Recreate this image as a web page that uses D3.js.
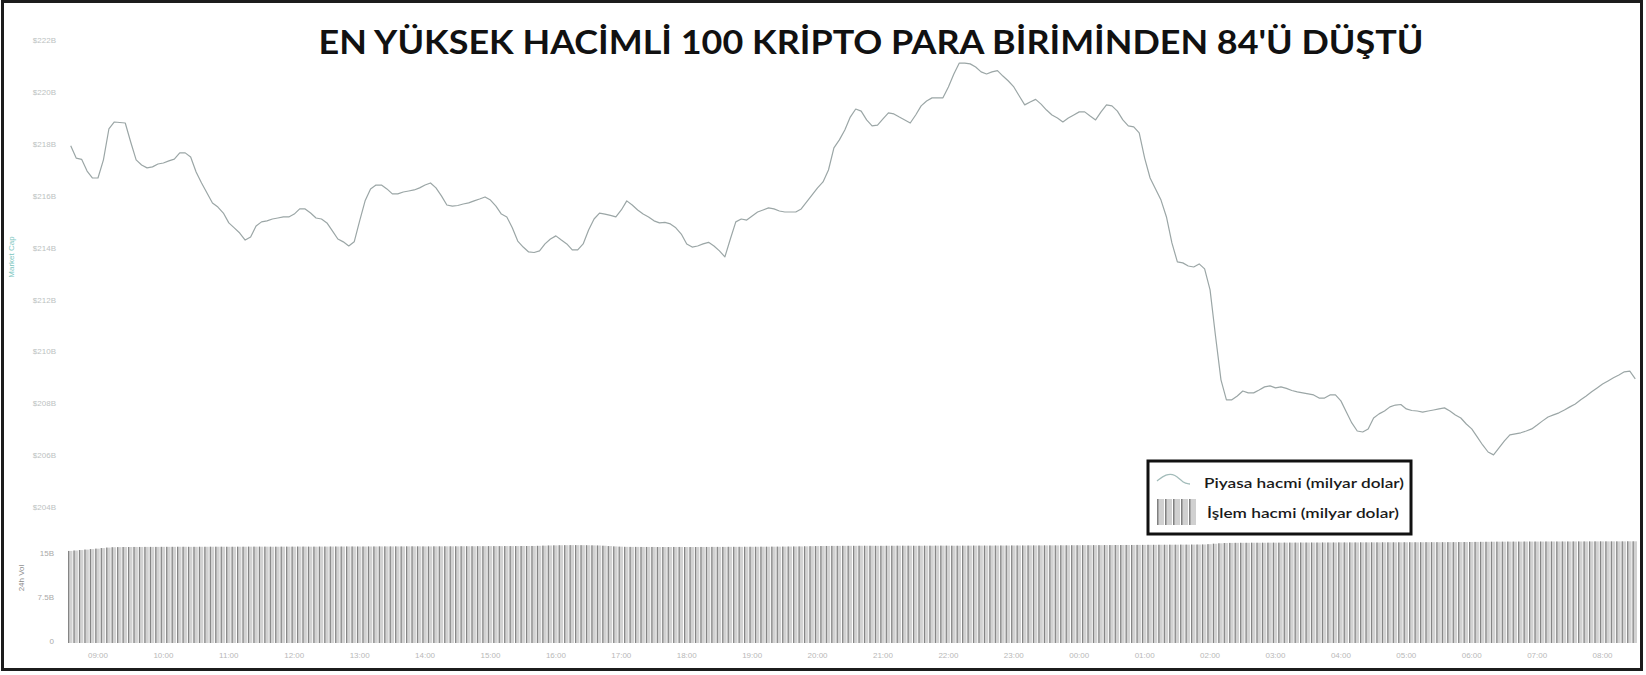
<!DOCTYPE html>
<html>
<head>
<meta charset="utf-8">
<script src="https://cdn.jsdelivr.net/npm/d3@7"></script>
<style>
  html, body { margin: 0; padding: 0; background: #fff; }
  svg { display: block; }
</style>
</head>
<body>
<svg id="chart" width="1646" height="675"></svg>
<script>
// 24h, 5-minute points: total market cap ($B) and 24h volume ($B)
const hourLabels = ['09:00','10:00','11:00','12:00','13:00','14:00','15:00','16:00',
  '17:00','18:00','19:00','20:00','21:00','22:00','23:00','00:00',
  '01:00','02:00','03:00','04:00','05:00','06:00','07:00','08:00'];

const capValues = [
  217.92,217.45,217.40,216.95,216.68,216.68,217.38,218.57,218.84,218.82,218.80,218.07,
  217.38,217.18,217.07,217.11,217.22,217.26,217.34,217.41,217.65,217.65,217.49,216.91,
  216.49,216.10,215.72,215.56,215.33,214.95,214.76,214.56,214.29,214.41,214.83,214.99,
  215.03,215.10,215.14,215.18,215.18,215.29,215.49,215.49,215.33,215.14,215.10,214.95,
  214.64,214.33,214.22,214.06,214.22,215.03,215.80,216.26,216.41,216.41,216.26,216.07,
  216.07,216.14,216.18,216.22,216.30,216.41,216.49,216.30,215.99,215.64,215.60,215.62,
  215.68,215.72,215.80,215.87,215.95,215.83,215.60,215.29,215.18,214.76,214.25,214.02,
  213.83,213.81,213.87,214.14,214.33,214.45,214.29,214.14,213.91,213.91,214.14,214.68,
  215.10,215.33,215.29,215.24,215.18,215.45,215.80,215.64,215.45,215.29,215.18,215.03,
  214.95,214.97,214.91,214.76,214.52,214.14,214.02,214.06,214.14,214.20,214.06,213.87,
  213.64,214.33,214.99,215.10,215.06,215.22,215.37,215.45,215.53,215.49,215.41,215.37,
  215.37,215.37,215.49,215.76,216.03,216.30,216.53,216.99,217.84,218.15,218.53,219.03,
  219.34,219.26,218.92,218.69,218.72,218.96,219.19,219.15,219.03,218.92,218.80,219.11,
  219.46,219.65,219.77,219.77,219.77,220.19,220.69,221.11,221.11,221.08,220.96,220.77,
  220.69,220.77,220.82,220.61,220.42,220.19,219.84,219.50,219.61,219.71,219.53,219.30,
  219.11,218.99,218.84,218.99,219.11,219.23,219.23,219.07,218.92,219.23,219.50,219.46,
  219.26,218.92,218.69,218.65,218.42,217.45,216.68,216.26,215.83,215.18,214.18,213.45,
  213.41,213.29,213.25,213.37,213.18,212.37,210.59,208.90,208.13,208.13,208.28,208.47,
  208.40,208.40,208.51,208.63,208.67,208.59,208.63,208.57,208.49,208.44,208.40,208.36,
  208.32,208.20,208.20,208.32,208.32,208.09,207.66,207.24,206.93,206.89,207.01,207.43,
  207.59,207.70,207.86,207.93,207.95,207.78,207.72,207.70,207.66,207.70,207.74,207.78,
  207.82,207.70,207.55,207.43,207.20,207.01,206.70,206.39,206.12,206.01,206.28,206.55,
  206.78,206.82,206.86,206.93,207.01,207.16,207.32,207.47,207.55,207.63,207.74,207.86,
  207.97,208.13,208.28,208.44,208.59,208.74,208.86,208.98,209.09,209.21,209.24,208.94
];

const volValues = [
  15.35,15.42,15.50,15.58,15.66,15.74,15.84,15.92,15.98,16.00,16.02,16.02,
  16.03,16.03,16.04,16.04,16.04,16.05,16.05,16.05,16.06,16.06,16.05,16.05,
  16.06,16.06,16.07,16.07,16.07,16.06,16.06,16.07,16.07,16.08,16.08,16.08,
  16.08,16.07,16.07,16.08,16.08,16.08,16.09,16.09,16.08,16.08,16.09,16.09,
  16.10,16.10,16.10,16.11,16.11,16.10,16.10,16.11,16.11,16.12,16.12,16.12,
  16.12,16.12,16.13,16.13,16.13,16.12,16.12,16.13,16.13,16.14,16.14,16.14,
  16.15,16.15,16.15,16.16,16.16,16.17,16.17,16.17,16.18,16.18,16.18,16.19,
  16.19,16.20,16.22,16.25,16.28,16.30,16.32,16.33,16.34,16.34,16.33,16.32,
  16.30,16.28,16.24,16.18,16.12,16.08,16.05,16.04,16.04,16.03,16.03,16.03,
  16.02,16.02,16.02,16.03,16.03,16.02,16.02,16.02,16.03,16.03,16.04,16.04,
  16.04,16.05,16.05,16.05,16.06,16.06,16.06,16.07,16.07,16.08,16.08,16.09,
  16.10,16.11,16.12,16.14,16.16,16.18,16.19,16.20,16.21,16.21,16.22,16.22,
  16.22,16.23,16.23,16.23,16.22,16.22,16.23,16.23,16.24,16.24,16.24,16.23,
  16.23,16.24,16.24,16.25,16.25,16.25,16.24,16.24,16.25,16.25,16.26,16.26,
  16.26,16.26,16.27,16.27,16.27,16.28,16.28,16.28,16.29,16.29,16.29,16.30,
  16.30,16.30,16.31,16.31,16.32,16.32,16.33,16.33,16.34,16.34,16.35,16.35,
  16.36,16.36,16.37,16.37,16.38,16.38,16.39,16.39,16.40,16.40,16.41,16.41,
  16.42,16.42,16.43,16.44,16.45,16.50,16.58,16.65,16.70,16.72,16.73,16.74,
  16.74,16.75,16.75,16.75,16.76,16.76,16.76,16.77,16.77,16.77,16.78,16.78,
  16.78,16.78,16.79,16.79,16.79,16.80,16.80,16.80,16.80,16.81,16.81,16.81,
  16.81,16.82,16.82,16.82,16.82,16.83,16.83,16.83,16.83,16.84,16.84,16.84,
  16.84,16.85,16.85,16.86,16.87,16.88,16.89,16.90,16.91,16.92,16.93,16.93,
  16.94,16.94,16.94,16.95,16.95,16.95,16.95,16.96,16.96,16.96,16.96,16.96,
  16.97,16.97,16.97,16.97,16.98,16.98,16.98,16.98,16.98,16.98,16.99,16.99
];

const capTicks = [222, 220, 218, 216, 214, 212, 210, 208, 206, 204];
const volTicks = [0, 7.5, 15];
const volTickLabels = ['0', '7.5B', '15B'];

const svg = d3.select('#chart');

// frame
svg.append('rect')
  .attr('x', 2.5).attr('y', 1.5)
  .attr('width', 1639).attr('height', 668)
  .attr('fill', 'none')
  .attr('stroke', '#1c1c1c')
  .attr('stroke-width', 3);

const idx = d3.range(capValues.length);
const x = d3.scaleBand().domain(idx).range([68, 1638]).padding(0);
const bw = x.bandwidth();
const yCap = d3.scaleLinear().domain([204, 222]).range([507, 40]);
const yVol = d3.scaleLinear().domain([0, 15]).range([641, 553]);

// y axis - market cap
const capAxis = svg.append('g')
  .attr('transform', 'translate(56,0)')
  .call(d3.axisLeft(yCap).tickValues(capTicks).tickSize(0).tickPadding(0)
    .tickFormat(d => '$' + d + 'B'));
capAxis.select('.domain').remove();
capAxis.selectAll('text')
  .attr('fill', '#bcc2c2')
  .style('font', '8px "Liberation Sans", Arial, sans-serif');

svg.append('text')
  .attr('transform', 'translate(14,257) rotate(-90)')
  .attr('text-anchor', 'middle')
  .attr('fill', '#7cc6c0')
  .style('font', '8px "Liberation Sans", Arial, sans-serif')
  .text('Market Cap');

// y axis - volume
const volAxis = svg.append('g')
  .attr('transform', 'translate(54,0)')
  .call(d3.axisLeft(yVol).tickValues(volTicks).tickSize(0).tickPadding(0)
    .tickFormat((d, i) => volTickLabels[i]));
volAxis.select('.domain').remove();
volAxis.selectAll('text')
  .attr('fill', '#a9a9a9')
  .style('font', '8px "Liberation Sans", Arial, sans-serif');

svg.append('text')
  .attr('transform', 'translate(24,578) rotate(-90)')
  .attr('text-anchor', 'middle')
  .attr('fill', '#8a8a8a')
  .style('font', '8px "Liberation Sans", Arial, sans-serif')
  .text('24h Vol');

// volume bars: light body + dark edge
const bars = svg.append('g').attr('class', 'bars');
bars.selectAll('rect.body')
  .data(volValues)
  .join('rect')
  .attr('class', 'body')
  .attr('x', (d, i) => x(i))
  .attr('y', d => yVol(d))
  .attr('width', bw - 1)
  .attr('height', d => yVol(0) + 2 - yVol(d))
  .attr('fill', '#d2d2d2');
bars.selectAll('rect.edge')
  .data(volValues)
  .join('rect')
  .attr('class', 'edge')
  .attr('x', (d, i) => x(i))
  .attr('y', d => yVol(d))
  .attr('width', 1.2)
  .attr('height', d => yVol(0) + 2 - yVol(d))
  .attr('fill', '#858585');

// x axis - hours
const labelIdx = hourLabels.map((h, k) => 5 + k * 12);
const xAxis = svg.append('g')
  .attr('transform', 'translate(0,652)')
  .call(d3.axisBottom(x).tickValues(labelIdx).tickSize(0).tickPadding(0)
    .tickFormat(i => hourLabels[(i - 5) / 12]));
xAxis.select('.domain').remove();
xAxis.selectAll('text')
  .attr('fill', '#b8b8b8')
  .style('font', '8px "Liberation Sans", Arial, sans-serif');

// market cap line
const line = d3.line()
  .x((d, i) => x(i) + bw / 2)
  .y(d => yCap(d));
svg.append('path')
  .datum(capValues)
  .attr('d', line)
  .attr('fill', 'none')
  .attr('stroke', '#9ba6a6')
  .attr('stroke-width', 1.2)
  .attr('stroke-linejoin', 'round');

// title
svg.append('text')
  .attr('x', 871).attr('y', 54)
  .attr('text-anchor', 'middle')
  .attr('textLength', 1105)
  .attr('lengthAdjust', 'spacingAndGlyphs')
  .attr('fill', '#111')
  .style('font', 'bold 33px Lato, "Open Sans", sans-serif')
  .text("EN YÜKSEK HACİMLİ 100 KRİPTO PARA BİRİMİNDEN 84'Ü DÜŞTÜ");

// legend
const lg = svg.append('g').attr('class', 'legend');
lg.append('rect')
  .attr('x', 1148).attr('y', 461)
  .attr('width', 263).attr('height', 73)
  .attr('fill', '#fff')
  .attr('stroke', '#111')
  .attr('stroke-width', 3);

const iconLine = d3.line().curve(d3.curveBasis);
lg.append('path')
  .attr('d', iconLine([[1157, 481], [1166, 474], [1175, 474], [1183, 483], [1190, 484]]))
  .attr('fill', 'none')
  .attr('stroke', '#a3bcba')
  .attr('stroke-width', 1.3);

[0, 1, 2, 3, 4].forEach(k => {
  lg.append('rect')
    .attr('x', 1157 + k * 8).attr('y', 499)
    .attr('width', 7).attr('height', 26)
    .attr('fill', '#d0d0d0');
  lg.append('rect')
    .attr('x', 1157 + k * 8).attr('y', 499)
    .attr('width', 1.5).attr('height', 26)
    .attr('fill', '#808080');
});

lg.append('text')
  .attr('x', 1204).attr('y', 488)
  .attr('textLength', 200)
  .attr('lengthAdjust', 'spacingAndGlyphs')
  .attr('fill', '#1a1a1a')
  .style('font', '600 14px Lato, "Open Sans", sans-serif')
  .text('Piyasa hacmi (milyar dolar)');
lg.append('text')
  .attr('x', 1207).attr('y', 518)
  .attr('textLength', 192)
  .attr('lengthAdjust', 'spacingAndGlyphs')
  .attr('fill', '#1a1a1a')
  .style('font', '600 14px Lato, "Open Sans", sans-serif')
  .text('İşlem hacmi (milyar dolar)');
</script>
</body>
</html>
